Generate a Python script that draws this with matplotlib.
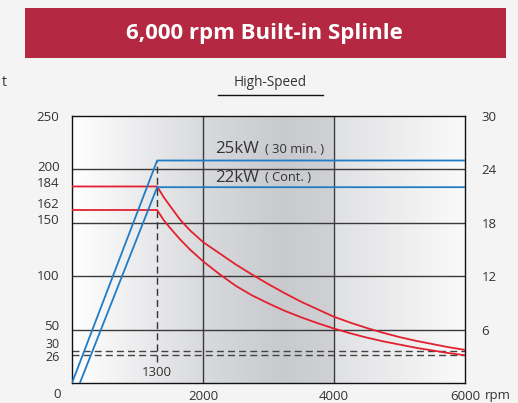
import numpy as np
import matplotlib
matplotlib.use("Agg")
import matplotlib.pyplot as plt
from matplotlib.colors import LinearSegmentedColormap
from matplotlib.patches import Rectangle
from matplotlib.lines import Line2D
from matplotlib.transforms import offset_copy

# ---- data ----
rpm_torque = [0, 1300, 1400, 1500, 1650, 1800, 2000, 2250, 2500, 2750, 3000,
              3250, 3500, 3750, 4000, 4250, 4500, 4750, 5000, 5250, 5500,
              5750, 6000]
torque_30min = [184, 184, 174, 165.5, 153, 143, 132, 121.5, 111, 101.5, 92.5,
                84, 76, 69, 62, 56.5, 51.5, 47, 43, 39.5, 36.5, 33.5, 31]
torque_cont = [162, 162, 152.5, 145, 134.5, 125, 114, 102, 91, 82, 74.5,
               67.5, 61.5, 56, 51, 46.5, 42.5, 39, 36, 33, 30.5, 28, 26]
rpm_power_30min = [0, 1300, 6000]
power_30min = [0, 25, 25]
rpm_power_cont = [120, 1300, 6000]
power_cont = [0, 22, 22]
left_ticks = [26, 30, 50, 100, 150, 162, 184, 200, 250]
left_tick_labels = ["26", "30", "50", "100", "150", "162", "184", "200", "250"]
right_ticks = [6, 12, 18, 24, 30]
x_ticks = [2000, 4000, 6000]
grid_h = [50, 100, 150, 200]
grid_v = [2000, 4000]
base_speed = 1300
dash_levels = [30, 26]

# small vertical nudges (points) for crowded left labels
label_nudge = {26: -1.5, 30: 5, 50: 2, 100: 0, 150: 2, 162: 4, 184: 2,
               200: 1.5, 250: -1}

RED = "#e3202f"
BLUE = "#1f7cc6"
TXT = "#333333"
FONT = "Open Sans"
FS = 9.5

fig = plt.figure(figsize=(5.18, 4.03), dpi=100)
fig.patch.set_facecolor("#f4f4f5")

ax = fig.add_axes([72/518, 20/403, 393/518, 267/403])
ax.set_xlim(0, 6000)
ax.set_ylim(0, 250)

# background gradient
cmap = LinearSegmentedColormap.from_list("bg", [
    (0.0, "#ffffff"), (2000/6000, "#d9dadd"), (3200/6000, "#c9cacd"),
    (3990/6000, "#d0d1d4"), (4010/6000, "#e0e1e3"), (1.0, "#fafafa")])
grad = np.linspace(0, 1, 600).reshape(1, -1)
ax.imshow(grad, cmap=cmap, extent=[0, 6000, 0, 250], aspect="auto", zorder=0)

for g in grid_h:
    ax.axhline(g, color="#3a3a3a", lw=1.0, zorder=1)
for g in grid_v:
    ax.axvline(g, color="#3a3a3a", lw=1.0, zorder=1)
for d in dash_levels:
    ax.axhline(d, color="#444444", lw=1.0, ls=(0, (5, 3)), zorder=1)
ax.plot([base_speed, base_speed], [20, 208], color="#333333", lw=1.0,
        ls=(0, (5, 3)), zorder=1)

ax.plot(rpm_torque, torque_30min, color=RED, lw=1.3, zorder=3)
ax.plot(rpm_torque, torque_cont, color=RED, lw=1.3, zorder=3)

# left labels drawn as text (to allow small nudges)
ax.set_yticks(left_ticks)
ax.set_yticklabels([])
ytrans = ax.get_yaxis_transform()
for v, lab in zip(left_ticks, left_tick_labels):
    tr = offset_copy(ytrans, fig=fig, x=-9, y=label_nudge[v], units="points")
    fs = 9 if v in (26, 30) else FS
    ax.text(0, v, lab, transform=tr, ha="right", va="center", fontsize=fs,
            color=TXT, family=FONT)

ax.set_xticks(x_ticks)
ax.set_xticklabels([str(t) for t in x_ticks])
ax.tick_params(axis="y", length=0)
ax.tick_params(axis="x", length=0, pad=5, labelsize=FS, labelcolor=TXT)
for lab in ax.get_xticklabels():
    lab.set_fontfamily(FONT)
for s in ax.spines.values():
    s.set_color("#111111")
    s.set_linewidth(1.0)

ax2 = ax.twinx()
ax2.set_ylim(0, 30)
ax2.plot(rpm_power_30min, power_30min, color=BLUE, lw=1.3, zorder=3)
ax2.plot(rpm_power_cont, power_cont, color=BLUE, lw=1.3, zorder=3)
ax2.set_yticks(right_ticks)
ax2.set_yticklabels([str(t) for t in right_ticks])
ax2.tick_params(axis="y", length=0, pad=12, labelsize=FS, labelcolor=TXT)
for lab in ax2.get_yticklabels():
    lab.set_fontfamily(FONT)
for s in ax2.spines.values():
    s.set_visible(False)

# annotations in the chart
ax.text(1300, 9.6, "1300", ha="center", va="center", fontsize=FS, color=TXT,
        family=FONT)
ax.text(2190, 219, "25kW", ha="left", va="center", fontsize=12.2, color=TXT,
        family=FONT)
ax.text(2950, 219, "( 30 min. )", ha="left", va="center", fontsize=9.3,
        color=TXT, family=FONT)
ax.text(2190, 192, "22kW", ha="left", va="center", fontsize=12.2, color=TXT,
        family=FONT)
ax.text(2950, 192, "( Cont. )", ha="left", va="center", fontsize=9.3,
        color=TXT, family=FONT)

# outside labels
fig.text(61/518, 1 - 395/403, "0", ha="right", va="center", fontsize=FS,
         color=TXT, family=FONT)
fig.text(485/518, 1 - 395/403, "rpm", ha="left", va="center", fontsize=FS,
         color=TXT, family=FONT)
fig.text(2/518, 1 - 82/403, "t", ha="left", va="center", fontsize=10,
         color=TXT, family=FONT)
fig.text(270/518, 1 - 82/403, "High-Speed", ha="center", va="center",
         fontsize=9.8, color=TXT, family=FONT)
fig.add_artist(Line2D([218/518, 323/518], [1 - 95/403, 1 - 95/403],
                      color="#111111", lw=1.0, transform=fig.transFigure))

# title banner
fig.add_artist(Rectangle((25/518, 1 - 58/403), 481/518, 50/403,
                         transform=fig.transFigure, facecolor="#b52841",
                         edgecolor="none"))
fig.text(264/518, 1 - 33/403, "6,000 rpm Built-in Splinle", ha="center",
         va="center", fontsize=16, color="white", weight="bold", family=FONT)

fig.savefig("out.png", dpi=100, facecolor=fig.get_facecolor())
